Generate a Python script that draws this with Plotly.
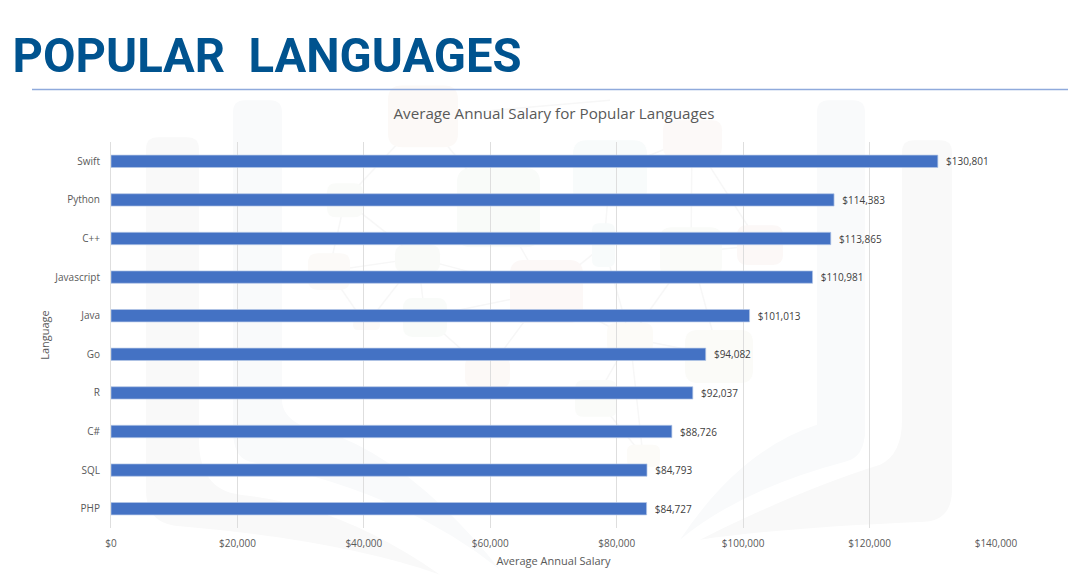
import plotly.graph_objects as go

languages = ["Swift", "Python", "C++", "Javascript", "Java", "Go", "R", "C#", "SQL", "PHP"]
salaries = [130801, 114383, 113865, 110981, 101013, 94082, 92037, 88726, 84793, 84727]
tick_values = [0, 20000, 40000, 60000, 80000, 100000, 120000, 140000]
tick_labels = ["$0", "$20,000", "$40,000", "$60,000", "$80,000", "$100,000", "$120,000", "$140,000"]
W, H = 1090, 580
L, R, T, B = 111, 996, 141.7, 528.3
def xp(x): return (x - L) / (R - L)
def yp(y): return (B - y) / (B - T)

def rounded(x0, y0, x1, y1, r, color):
    a, b, c, d = xp(x0), yp(y0), xp(x1), yp(y1)
    rx, ry = r / (R - L), r / (B - T)
    path = (f"M {a+rx} {b} L {c-rx} {b} Q {c} {b} {c} {b-ry} L {c} {d+ry} Q {c} {d} {c-rx} {d} "
            f"L {a+rx} {d} Q {a} {d} {a} {d+ry} L {a} {b-ry} Q {a} {b} {a+rx} {b} Z")
    return dict(type="path", xref="paper", yref="paper", path=path, fillcolor=color, line_width=0, layer="below")

def curve(start, segments, color):
    path = f"M {xp(start[0])} {yp(start[1])} "
    for c1, p in segments:
        path += f"Q {xp(c1[0])} {yp(c1[1])} {xp(p[0])} {yp(p[1])} "
    return dict(type="path", xref="paper", yref="paper", path=path + "Z", fillcolor=color, line_width=0, layer="below")

def link(x0, y0, x1, y1):
    return dict(type="line", xref="paper", yref="paper", x0=xp(x0), y0=yp(y0), x1=xp(x1), y1=yp(y1),
                line=dict(color="#F7F7F7", width=1.5), layer="below")

links = [(423, 116, 345, 200), (423, 116, 498, 207), (423, 116, 610, 100), (345, 200, 418, 258), (345, 200, 329, 271),
         (329, 271, 418, 258), (329, 271, 366, 325), (418, 258, 425, 317), (418, 258, 546, 292), (498, 207, 546, 292),
         (366, 325, 418, 258), (425, 317, 487, 372), (425, 317, 546, 292), (487, 372, 546, 292), (610, 171, 692, 138),
         (610, 171, 604, 245), (692, 138, 691, 252), (692, 138, 760, 245), (691, 252, 760, 245), (604, 245, 630, 338),
         (691, 252, 630, 338), (630, 338, 719, 356), (691, 252, 719, 356), (630, 338, 596, 398), (630, 338, 643, 456),
         (596, 398, 643, 456), (546, 292, 630, 338), (546, 292, 604, 245)]
links_shapes = [link(*p) for p in links]

nodes = [
    (388, 85, 458, 147, 14, "#FCF9F7"), (327, 183, 363, 217, 9, "#FAFBF9"), (457, 168, 540, 247, 14, "#F9FBF9"),
    (395, 245, 440, 272, 9, "#F9FAF8"), (308, 253, 350, 290, 10, "#FCFAF8"), (403, 298, 447, 337, 10, "#F9FBF9"),
    (510, 260, 583, 323, 14, "#FCF8F7"), (465, 357, 510, 387, 8, "#FCF9F7"), (353, 320, 380, 330, 5, "#FCFAF8"),
    (573, 140, 647, 203, 14, "#F8FBFB"), (592, 223, 615, 267, 7, "#F8FBFB"), (663, 120, 722, 157, 10, "#FCF9F8"),
    (660, 227, 722, 277, 12, "#FAFBF9"), (737, 225, 783, 265, 10, "#FCF8F7"), (607, 323, 653, 353, 9, "#FCFBF8"),
    (685, 330, 753, 383, 13, "#FBFBF8"), (575, 380, 617, 417, 9, "#FAFBF9"), (627, 445, 660, 467, 7, "#FCFBF8"),
]
columns = [
    rounded(146, 137, 199, 500, 12, "#F9F9F9"), rounded(233, 100, 282, 445, 12, "#F9FAFB"),
    rounded(817, 100, 865, 445, 12, "#F9FAFB"), rounded(902, 140, 952, 500, 12, "#F9F9F9"),
]
swooshes = [
    curve((233, 430), [((233, 458), (250, 462)), ((400, 490), (500, 570)), ((400, 445), (300, 425)), ((282, 415), (282, 400))], "#F9FAFB"),
    curve((146, 490), [((146, 522), (175, 526)), ((340, 540), (440, 575)), ((340, 505), (240, 495)), ((199, 490), (199, 440))], "#F9F9F9"),
    curve((865, 430), [((865, 458), (845, 462)), ((740, 490), (680, 540)), ((740, 450), (817, 425))], "#F9FAFB"),
    curve((952, 490), [((952, 520), (925, 522)), ((780, 528), (700, 540)), ((800, 490), (880, 465)), ((902, 455), (902, 420))], "#F9F9F9"),
]
watermark = columns + swooshes + links_shapes + [rounded(*n[:5], n[5]) for n in nodes]

fig = go.Figure(go.Bar(
    y=languages, x=salaries, orientation="h", width=0.32,
    marker=dict(color="#4472C4", line=dict(color="#B4C7E7", width=0.7)),
    text=[f"\u00a0\u00a0${v:,}" for v in salaries], textposition="outside", cliponaxis=False, constraintext="none",
    textfont=dict(family="Open Sans", size=10, color="#404040"),
))
fig.update_layout(
    width=W, height=H, autosize=False, showlegend=False,
    paper_bgcolor="white", plot_bgcolor="rgba(0,0,0,0)",
    margin=dict(l=L, r=W - R, t=T, b=H - B),
    font=dict(family="Open Sans", color="#595959"),
    title=dict(text="Average Annual Salary for Popular Languages", x=554 / W, xanchor="center",
               y=1 - 114 / H, yanchor="middle", font=dict(family="Open Sans", size=15.2, color="#595959")),
    xaxis=dict(range=[0, 140000], tickvals=tick_values, ticktext=tick_labels, showgrid=True,
               gridcolor="#DEDEDE", gridwidth=1, zeroline=False, showline=False, automargin=False,
               tickfont=dict(size=10, color="#595959"), ticks="", ticklabelstandoff=8,
               title=dict(text="Average Annual Salary", font=dict(size=11, color="#595959"), standoff=8)),
    yaxis=dict(categoryorder="array", categoryarray=languages[::-1], showgrid=False,
               zeroline=False, showline=True, linecolor="#DEDEDE", ticks="", automargin=False,
               tickfont=dict(size=10, color="#595959"), ticklabelstandoff=8,
               title=dict(text="Language", font=dict(size=11, color="#595959"), standoff=2)),
    shapes=watermark + [dict(type="line", xref="paper", yref="paper", x0=xp(32), x1=xp(1068),
                             y0=yp(89), y1=yp(89), line=dict(color="#8FAADC", width=1.5))],
    annotations=[dict(text="<b>POPULAR  LANGUAGES</b>", xref="paper", yref="paper",
                      x=xp(1), y=yp(55), xanchor="left", yanchor="middle", showarrow=False,
                      font=dict(family="Roboto", size=49, color="#00538F"))],
)
fig.write_html("out.html", config={"displayModeBar": False}, post_script="""
document.body.style.margin='0';
document.querySelectorAll('.annotation-text').forEach(function(t){
  t.setAttribute('textLength','509');
  t.setAttribute('lengthAdjust','spacingAndGlyphs');
});
""")
